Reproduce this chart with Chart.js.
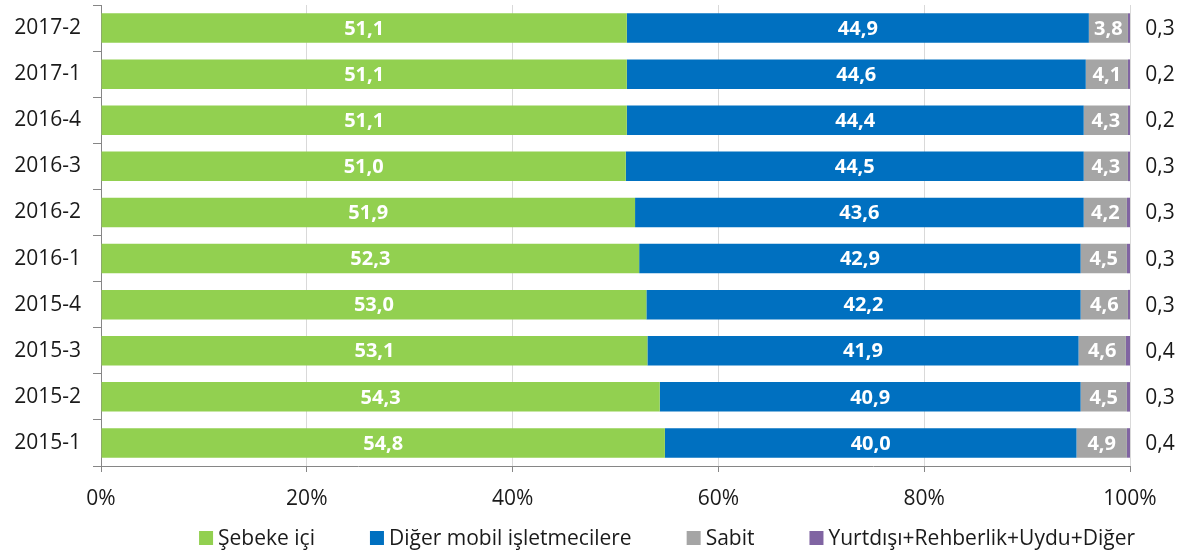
<!DOCTYPE html>
<html>
<head>
<meta charset="utf-8">
<script src="https://cdn.jsdelivr.net/npm/chart.js@4/dist/chart.umd.min.js"></script>
<style>
  html, body { margin: 0; padding: 0; background: #fff; }
  #wrap { width: 1188px; height: 556px; }
</style>
</head>
<body>
<div id="wrap"><canvas id="myChart"></canvas></div>
<script>
const donemler = ['2017-2', '2017-1', '2016-4', '2016-3', '2016-2', '2016-1', '2015-4', '2015-3', '2015-2', '2015-1'];
const sebekeIci = [51.1, 51.1, 51.1, 51.0, 51.9, 52.3, 53.0, 53.1, 54.3, 54.8];
const digerMobil = [44.9, 44.6, 44.4, 44.5, 43.6, 42.9, 42.2, 41.9, 40.9, 40.0];
const sabit = [3.8, 4.1, 4.3, 4.3, 4.2, 4.5, 4.6, 4.6, 4.5, 4.9];
const yurtdisi = [0.3, 0.2, 0.2, 0.3, 0.3, 0.3, 0.3, 0.4, 0.3, 0.4];
const seriAdlari = ['Şebeke içi', 'Diğer mobil işletmecilere', 'Sabit', 'Yurtdışı+Rehberlik+Uydu+Diğer'];
const renkler = ['#92D050', '#0070C0', '#A5A5A5', '#8064A2'];

const fontAdi = '"Open Sans", "Noto Sans", sans-serif';
const yaziRengi = '#1a1a1a';
const sayi = v => v.toFixed(1).replace('.', ',');

// bar etiketleri: ilk üç seri çubuk içinde, son seri grafiğin sağında
const etiketPlugin = {
    id: 'etiketler',
    afterDatasetsDraw(chart) {
        const ctx = chart.ctx;
        ctx.save();
        ctx.textBaseline = 'middle';
        ctx.textAlign = 'center';
        chart.data.datasets.forEach((ds, i) => {
            const meta = chart.getDatasetMeta(i);
            meta.data.forEach((bar, j) => {
                const v = ds.data[j];
                if (i < 3) {
                    ctx.font = 'bold 20px ' + fontAdi;
                    ctx.fillStyle = '#ffffff';
                    ctx.fillText(sayi(v), (bar.x + bar.base) / 2, bar.y + 1);
                } else {
                    ctx.font = '21px ' + fontAdi;
                    ctx.fillStyle = yaziRengi;
                    ctx.fillText(sayi(v), chart.chartArea.right + 30, bar.y + 1);
                }
            });
        });
        ctx.restore();
    }
};

// alt lejant (Excel gibi sağa yaslı, geniş aralıklı)
const lejantPlugin = {
    id: 'lejant',
    afterDraw(chart) {
        const ctx = chart.ctx;
        const kutu = 14, araKutu = 5, bosluk = 55;
        ctx.save();
        ctx.font = '21px ' + fontAdi;
        ctx.textBaseline = 'middle';
        ctx.textAlign = 'left';
        const genislikler = chart.data.datasets.map(ds => ctx.measureText(ds.label).width);
        const toplam = genislikler.reduce((a, w) => a + kutu + araKutu + w, 0) + bosluk * (genislikler.length - 1);
        let x = chart.chartArea.right + 5 - toplam;
        const y = chart.chartArea.bottom + 72;
        chart.data.datasets.forEach((ds, i) => {
            ctx.fillStyle = ds.backgroundColor;
            ctx.fillRect(x, y - kutu / 2, kutu, kutu);
            x += kutu + araKutu;
            ctx.fillStyle = yaziRengi;
            ctx.fillText(ds.label, x, y + 1);
            x += genislikler[i] + bosluk;
        });
        ctx.restore();
    }
};

const ctx = document.getElementById('myChart').getContext('2d');
new Chart(ctx, {
    type: 'bar',
    data: {
        labels: donemler,
        datasets: [sebekeIci, digerMobil, sabit, yurtdisi].map((d, i) => ({
            label: seriAdlari[i],
            data: d,
            backgroundColor: renkler[i],
            borderWidth: 0,
            barPercentage: 0.64,
            categoryPercentage: 1.0
        }))
    },
    options: {
        indexAxis: 'y',
        responsive: true,
        maintainAspectRatio: false,
        animation: false,
        layout: { padding: { top: 5, right: 58, left: 0, bottom: 36 } },
        scales: {
            x: {
                stacked: true,
                min: 0,
                max: 100,
                ticks: {
                    stepSize: 20,
                    callback: v => v + '%',
                    color: yaziRengi,
                    font: { family: fontAdi, size: 21 },
                    padding: 14
                },
                grid: {
                    color: '#D9D9D9',
                    tickLength: 6,
                    tickColor: '#868686'
                },
                border: { color: '#868686' },
                afterFit: scale => { scale.height = 54; scale.paddingLeft = 0; scale.paddingRight = 0; }
            },
            y: {
                stacked: true,
                ticks: {
                    color: yaziRengi,
                    font: { family: fontAdi, size: 21 },
                    padding: 12
                },
                grid: {
                    offset: true,
                    drawOnChartArea: false,
                    tickLength: 8,
                    tickColor: '#868686'
                },
                border: { color: '#868686' },
                afterFit: scale => { scale.width = 101; scale.paddingTop = 0; scale.paddingBottom = 0; }
            }
        },
        plugins: {
            legend: { display: false },
            tooltip: { enabled: false }
        }
    },
    plugins: [etiketPlugin, lejantPlugin]
});
</script>
</body>
</html>
